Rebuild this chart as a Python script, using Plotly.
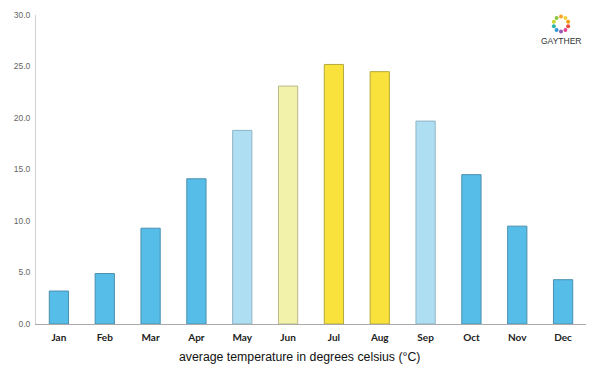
import plotly.graph_objects as go
import math

months = ["Jan", "Feb", "Mar", "Apr", "May", "Jun", "Jul", "Aug", "Sep", "Oct", "Nov", "Dec"]
temps = [3.2, 4.9, 9.3, 14.1, 18.8, 23.1, 25.2, 24.5, 19.7, 14.5, 9.5, 4.3]
fill_colors = ["#56BDE8", "#56BDE8", "#56BDE8", "#56BDE8", "#AEDEF2", "#F2F2AA",
               "#FAE23C", "#FAE23C", "#AEDEF2", "#56BDE8", "#56BDE8", "#56BDE8"]
line_colors = ["#4A8FAE", "#4A8FAE", "#4A8FAE", "#4A8FAE", "#8FB4C4", "#B8B88A",
               "#B5A93A", "#B5A93A", "#8FB4C4", "#4A8FAE", "#4A8FAE", "#4A8FAE"]
y_ticks = [0, 5, 10, 15, 20, 25, 30]
y_tick_labels = ["0.0", "5.0", "10.0", "15.0", "20.0", "25.0", "30.0"]
logo_colors = ["#F6A623", "#8CC63F", "#C8D631", "#2BB5A6", "#2E9AD6", "#9B59B6", "#E84393", "#E74C3C", "#F39C12", "#F5D033"]

L, T, W, H = 36, 15, 550, 309

fig = go.Figure()
fig.add_trace(go.Bar(
    x=months, y=temps,
    marker=dict(color=fill_colors, line=dict(color=line_colors, width=1)),
    width=0.42, hoverinfo="x+y",
))

fig.update_layout(
    width=600, height=375,
    margin=dict(l=L, r=600 - L - W, t=T, b=375 - T - H, pad=0, autoexpand=False),
    paper_bgcolor="white", plot_bgcolor="white",
    showlegend=False,
    xaxis=dict(
        automargin=False,
        showgrid=False, showline=True, linecolor="#AAAAAA", linewidth=1,
        ticks="outside", ticklen=4, tickcolor="rgba(0,0,0,0)",
        tickfont=dict(family="Lato", size=10, color="#222222", weight="bold"),
        fixedrange=True,
    ),
    yaxis=dict(
        automargin=False,
        range=[0, 30], tickvals=y_ticks, ticktext=y_tick_labels,
        showgrid=False, zeroline=False, showline=True, linecolor="#D0D0D0", linewidth=1,
        ticks="outside", ticklen=3, tickcolor="rgba(0,0,0,0)",
        tickfont=dict(family="Liberation Sans", size=8.5, color="#666666"),
        fixedrange=True,
    ),
    annotations=[
        dict(text="average temperature in degrees celsius (°C)", xref="paper", yref="paper",
             x=(299 - L) / W, y=(T + H - 357) / H, yanchor="middle", xanchor="center", showarrow=False,
             font=dict(family="Liberation Sans", size=12.3, color="#111111")),
        dict(text="GAYTHER", xref="paper", yref="paper", x=(561 - L) / W, y=(T + H - 41) / H,
             xanchor="center", yanchor="middle",
             showarrow=False, font=dict(family="Liberation Sans", size=8.5, color="#333333")),
    ],
)

# logo ring
cx, cy, r = 561, 24, 7.5
shapes = []
for i, c in enumerate(logo_colors):
    a = 2 * math.pi * i / len(logo_colors) + math.pi / 2
    px = cx + r * math.cos(a)
    py = cy - r * math.sin(a)
    shapes.append(dict(type="circle", xref="paper", yref="paper",
                       x0=(px - 2 - L) / W, x1=(px + 2 - L) / W,
                       y0=(T + H - (py + 2)) / H, y1=(T + H - (py - 2)) / H,
                       fillcolor=c, line=dict(width=0)))
fig.update_layout(shapes=shapes)

fig.write_html("out.html", config={"displayModeBar": False},
               post_script="document.body.style.margin='0';")
